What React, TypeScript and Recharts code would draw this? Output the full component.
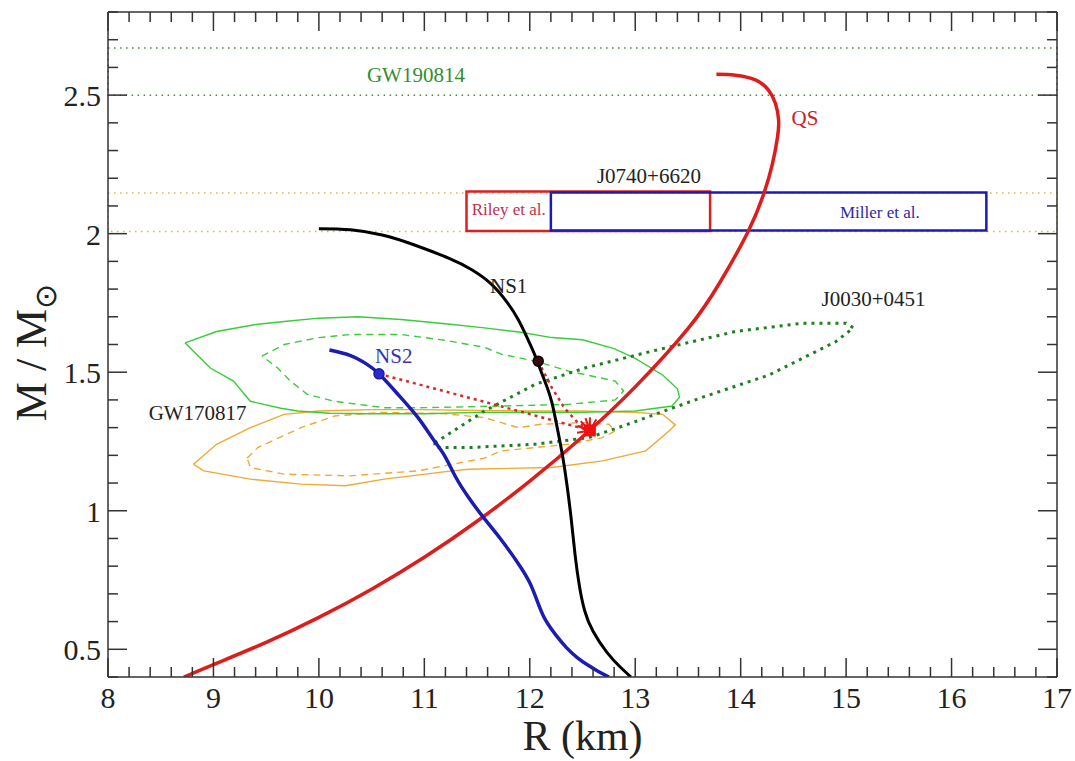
import React from "react";
import {
  ComposedChart,
  Line,
  Scatter,
  XAxis,
  YAxis,
  ReferenceArea,
  ReferenceDot,
} from "recharts";

type Pt = { x: number; y: number };
const pts = (rows: number[][]): Pt[] => rows.map(([x, y]) => ({ x, y }));

// mass–radius curves (R in km, M in solar masses)
const QS = pts([
  [8.72, 0.4], [9.0, 0.445], [9.5, 0.525], [10.0, 0.615], [10.5, 0.717],
  [11.0, 0.832], [11.5, 0.962], [12.0, 1.107], [12.5, 1.267], [13.0, 1.447],
  [13.5, 1.657], [13.8, 1.822], [14.07, 2.007], [14.22, 2.145], [14.3, 2.25],
  [14.35, 2.35], [14.36, 2.41], [14.33, 2.47], [14.26, 2.52], [14.14, 2.555],
  [13.95, 2.572], [13.77, 2.575],
]);

const NS1 = pts([
  [10.0, 2.018], [10.3, 2.014], [10.6, 1.995], [10.9, 1.96], [11.24, 1.91],
  [11.45, 1.87], [11.63, 1.82], [11.78, 1.755], [11.89, 1.69], [11.98, 1.62],
  [12.05, 1.56], [12.1, 1.51], [12.16, 1.45], [12.21, 1.39], [12.26, 1.3],
  [12.31, 1.2], [12.35, 1.1], [12.39, 0.98], [12.43, 0.84], [12.47, 0.73],
  [12.52, 0.64], [12.6, 0.565], [12.73, 0.49], [12.86, 0.435], [12.96, 0.4],
]);

const NS2 = pts([
  [10.1, 1.58], [10.3, 1.56], [10.45, 1.53], [10.57, 1.494], [10.75, 1.42],
  [10.94, 1.336], [11.08, 1.26], [11.19, 1.2], [11.3, 1.12], [11.42, 1.048],
  [11.56, 0.976], [11.72, 0.9], [11.89, 0.81], [12.0, 0.74], [12.08, 0.665],
  [12.15, 0.605], [12.25, 0.55], [12.35, 0.505], [12.45, 0.47],
  [12.55, 0.443], [12.65, 0.42], [12.75, 0.4],
]);

// GW170817 contours
const GW_GREEN_OUTER = pts([
  [8.73, 1.606], [9.03, 1.647], [9.4, 1.672], [9.67, 1.683], [10.0, 1.695],
  [10.37, 1.7], [10.78, 1.69], [11.2, 1.675], [11.57, 1.66], [11.9, 1.645],
  [12.21, 1.625], [12.5, 1.617], [12.8, 1.585], [13.0, 1.55], [13.26, 1.49],
  [13.4, 1.44], [13.42, 1.41], [13.35, 1.378], [13.0, 1.36], [12.5, 1.355],
  [12.0, 1.355], [11.5, 1.355], [11.0, 1.35], [10.5, 1.35], [10.1, 1.352],
  [9.8, 1.36], [9.64, 1.37], [9.35, 1.395], [9.19, 1.468], [8.97, 1.515],
  [8.81, 1.576], [8.73, 1.606],
]);

const GW_GREEN_INNER = pts([
  [9.46, 1.558], [9.67, 1.6], [10.0, 1.625], [10.3, 1.636], [10.78, 1.636],
  [11.2, 1.615], [11.57, 1.59], [11.73, 1.565], [12.05, 1.54], [12.37, 1.504],
  [12.81, 1.468], [12.89, 1.432], [12.81, 1.4], [12.37, 1.384], [11.73, 1.378],
  [11.0, 1.372], [10.62, 1.372], [10.15, 1.395], [9.89, 1.42], [9.73, 1.468],
  [9.61, 1.515], [9.46, 1.558],
]);

const GW_ORANGE_OUTER = pts([
  [8.81, 1.168], [9.03, 1.24], [9.35, 1.3], [9.67, 1.348], [10.0, 1.36],
  [10.5, 1.365], [11.0, 1.365], [11.5, 1.362], [12.0, 1.36], [12.5, 1.36],
  [13.0, 1.355], [13.26, 1.348], [13.38, 1.31], [13.32, 1.288], [13.1, 1.216],
  [12.69, 1.18], [12.21, 1.156], [11.42, 1.15], [11.26, 1.144], [10.62, 1.114],
  [10.25, 1.09], [9.83, 1.096], [9.35, 1.114], [8.91, 1.144], [8.81, 1.168],
]);

const GW_ORANGE_INNER = pts([
  [9.32, 1.19], [9.42, 1.228], [9.83, 1.3], [10.15, 1.342], [10.6, 1.355],
  [11.2, 1.35], [11.57, 1.336], [11.89, 1.3], [12.11, 1.312], [12.5, 1.318],
  [12.75, 1.312], [12.81, 1.288], [12.69, 1.264], [12.37, 1.24], [11.73, 1.216],
  [11.57, 1.19], [10.94, 1.144], [10.3, 1.126], [9.67, 1.132], [9.35, 1.156],
  [9.32, 1.19],
]);

// J0030+0451 (NICER) contour
const J0030 = pts([
  [11.1, 1.245], [11.57, 1.36], [12.05, 1.456], [12.53, 1.516], [13.16, 1.576],
  [13.95, 1.647], [14.59, 1.677], [15.0, 1.677], [15.07, 1.66], [14.9, 1.61],
  [14.27, 1.49], [13.64, 1.41], [12.84, 1.3], [12.56, 1.264], [12.05, 1.24],
  [11.42, 1.228], [11.1, 1.228], [11.1, 1.245],
]);

// marked stars and the conversion paths
const NS1_STAR = pts([[12.08, 1.54]]);
const NS2_STAR = pts([[10.57, 1.494]]);
const QS_STAR = pts([[12.57, 1.29]]);
const PATH_NS2_QS = pts([[10.57, 1.494], [11.6, 1.39], [12.57, 1.29]]);
const PATH_NS1_QS = pts([[12.08, 1.54], [12.2, 1.45], [12.33, 1.37], [12.45, 1.32], [12.57, 1.29]]);

// observational bands
const GW190814_BAND = [2.5, 2.67];
const J0740_BAND = [2.008, 2.147];
const RILEY_BOX = { x: [11.4, 13.71], y: [2.01, 2.152] };
const MILLER_BOX = { x: [12.2, 16.33], y: [2.011, 2.149] };

const LABELS = [
  { text: "GW190814", x: 10.92, y: 2.547, color: "#2f8f2f", size: 21 },
  { text: "QS", x: 14.61, y: 2.392, color: "#cc2222", size: 21 },
  { text: "J0740+6620", x: 13.13, y: 2.183, color: "#222", size: 21 },
  { text: "Riley et al.", x: 11.8, y: 2.067, color: "#c0304a", size: 17 },
  { text: "Miller et al.", x: 15.32, y: 2.056, color: "#2a2aa8", size: 17 },
  { text: "NS1", x: 11.8, y: 1.786, color: "#222", size: 21 },
  { text: "J0030+0451", x: 15.26, y: 1.739, color: "#222", size: 21 },
  { text: "NS2", x: 10.71, y: 1.533, color: "#3535b5", size: 21 },
  { text: "GW170817", x: 8.85, y: 1.327, color: "#222", size: 21 },
];

const X_MAJOR = [8, 9, 10, 11, 12, 13, 14, 15, 16, 17];
const Y_MAJOR = [0.5, 1, 1.5, 2, 2.5];
const X_TICKS = Array.from({ length: 46 }, (_, i) => Math.round((8 + i * 0.2) * 10) / 10);
const Y_TICKS = Array.from({ length: 25 }, (_, i) => Math.round((0.4 + i * 0.1) * 10) / 10);

const SERIF = "'Liberation Serif', 'Times New Roman', serif";
const AXIS = "#333";
const MAJOR_LEN = 19;
const MINOR_LEN = 10;

const isMajor = (v: number, majors: number[]) => majors.some((m) => Math.abs(m - v) < 1e-6);

function BottomTick({ x, y, payload }: any) {
  const major = isMajor(payload.value, X_MAJOR);
  return (
    <g>
      <line x1={x} x2={x} y1={y} y2={y - (major ? MAJOR_LEN : MINOR_LEN)} stroke={AXIS} strokeWidth={1.5} />
      {major && (
        <text x={x} y={y + 31} textAnchor="middle" fontSize={30} fill="#222" fontFamily={SERIF}>
          {payload.value}
        </text>
      )}
    </g>
  );
}

function TopTick({ x, y, payload }: any) {
  const major = isMajor(payload.value, X_MAJOR);
  return <line x1={x} x2={x} y1={y} y2={y + (major ? MAJOR_LEN : MINOR_LEN)} stroke={AXIS} strokeWidth={1.5} />;
}

function LeftTick({ x, y, payload }: any) {
  const major = isMajor(payload.value, Y_MAJOR);
  return (
    <g>
      <line x1={x} x2={x + (major ? MAJOR_LEN : MINOR_LEN)} y1={y} y2={y} stroke={AXIS} strokeWidth={1.5} />
      {major && (
        <text x={x - 7} y={y + 11} textAnchor="end" fontSize={30} fill="#222" fontFamily={SERIF}>
          {payload.value}
        </text>
      )}
    </g>
  );
}

function RightTick({ x, y, payload }: any) {
  const major = isMajor(payload.value, Y_MAJOR);
  return <line x1={x} x2={x - (major ? MAJOR_LEN : MINOR_LEN)} y1={y} y2={y} stroke={AXIS} strokeWidth={1.5} />;
}

function XLabel({ viewBox }: any) {
  const cx = viewBox.x + viewBox.width / 2;
  return (
    <text x={cx} y={viewBox.y + 73} textAnchor="middle" fontSize={42} fill="#222" fontFamily={SERIF}>
      R (km)
    </text>
  );
}

function YLabel({ viewBox }: any) {
  const cx = viewBox.x + 46;
  const cy = viewBox.y + viewBox.height / 2 + 8;
  return (
    <text
      x={cx}
      y={cy}
      textAnchor="middle"
      fontSize={44}
      fill="#222"
      fontFamily={SERIF}
      transform={`rotate(-90, ${cx}, ${cy})`}
    >
      M / M
      <tspan fontSize={30} dy={10}>⊙</tspan>
    </text>
  );
}

const dotShape = (fill: string, stroke: string) => (p: any) => (
  <circle cx={p.cx} cy={p.cy} r={5} fill={fill} stroke={stroke} strokeWidth={1.5} />
);

function StarShape(p: any) {
  const { cx, cy } = p;
  const spikes = [-160, -135, -110, -90, -60, 170, 200];
  return (
    <g>
      {spikes.map((a) => {
        const r = (a * Math.PI) / 180;
        return (
          <line key={a} x1={cx} y1={cy} x2={cx + 13 * Math.cos(r)} y2={cy + 13 * Math.sin(r)} stroke="#e01818" strokeWidth={2} />
        );
      })}
      <rect x={cx - 6} y={cy - 6} width={12} height={12} fill="#ee1111" />
    </g>
  );
}

function curve(
  data: Pt[],
  stroke: string,
  width: number,
  opts: { dash?: string; type?: any; xId?: any; yId?: any } = {}
) {
  return (
    <Line
      data={data}
      dataKey="y"
      type={opts.type ?? "linear"}
      stroke={stroke}
      strokeWidth={width}
      strokeDasharray={opts.dash}
      dot={false}
      activeDot={false}
      xAxisId={opts.xId ?? 0}
      yAxisId={opts.yId ?? 0}
      isAnimationActive={false}
      legendType="none"
    />
  );
}

export default function App() {
  return (
    <div style={{ position: "absolute", left: 0, top: 0, width: 1075, height: 761, background: "#fff", fontFamily: SERIF }}>
      <ComposedChart width={1075} height={761} margin={{ top: 11, right: 17, bottom: 0, left: 0 }}>
        <XAxis
          type="number"
          dataKey="x"
          domain={[8, 17]}
          allowDataOverflow
          ticks={X_TICKS}
          interval={0}
          tickSize={0}
          tickMargin={0}
          tickLine={false}
          tick={<BottomTick />}
          axisLine={{ stroke: AXIS, strokeWidth: 1.5 }}
          height={84}
          label={<XLabel />}
        />
        <XAxis
          xAxisId="top"
          orientation="top"
          type="number"
          dataKey="x"
          domain={[8, 17]}
          allowDataOverflow
          ticks={X_TICKS}
          interval={0}
          tickSize={0}
          tickMargin={0}
          tickLine={false}
          tick={<TopTick />}
          axisLine={{ stroke: AXIS, strokeWidth: 1.5 }}
          height={1}
        />
        <YAxis
          type="number"
          dataKey="y"
          domain={[0.4, 2.8]}
          allowDataOverflow
          ticks={Y_TICKS}
          interval={0}
          tickSize={0}
          tickMargin={0}
          tickLine={false}
          tick={<LeftTick />}
          axisLine={{ stroke: AXIS, strokeWidth: 1.5 }}
          width={108}
          label={<YLabel />}
        />
        <YAxis
          yAxisId="right"
          orientation="right"
          type="number"
          dataKey="y"
          domain={[0.4, 2.8]}
          allowDataOverflow
          ticks={Y_TICKS}
          interval={0}
          tickSize={0}
          tickMargin={0}
          tickLine={false}
          tick={<RightTick />}
          axisLine={{ stroke: AXIS, strokeWidth: 1.5 }}
          width={1}
        />

        <ReferenceArea
          x1={8} x2={17} y1={GW190814_BAND[0]} y2={GW190814_BAND[1]}
          fill="none" stroke="#3a8f3a" strokeWidth={1.5} strokeDasharray="1.5 4.5"
        />
        <ReferenceArea
          x1={8} x2={17} y1={J0740_BAND[0]} y2={J0740_BAND[1]}
          fill="none" stroke="#e6b24a" strokeWidth={1.5} strokeDasharray="1.5 4.5"
        />
        <ReferenceArea
          x1={RILEY_BOX.x[0]} x2={RILEY_BOX.x[1]} y1={RILEY_BOX.y[0]} y2={RILEY_BOX.y[1]}
          fill="none" stroke="#dd1f1f" strokeWidth={2.5}
        />
        <ReferenceArea
          x1={MILLER_BOX.x[0]} x2={MILLER_BOX.x[1]} y1={MILLER_BOX.y[0]} y2={MILLER_BOX.y[1]}
          fill="none" stroke="#1c1cb4" strokeWidth={2.5}
        />

        {curve(GW_ORANGE_OUTER, "#eeaa33", 1.4)}
        {curve(GW_ORANGE_INNER, "#eeaa33", 1.4, { dash: "7 5" })}
        {curve(GW_GREEN_OUTER, "#3acc3a", 1.4)}
        {curve(GW_GREEN_INNER, "#3acc3a", 1.4, { dash: "7 5" })}
        {curve(J0030, "#1f7f1f", 3, { dash: "3 5", xId: "top", yId: "right" })}
        {curve(PATH_NS2_QS, "#d42a2a", 2.5, { dash: "3 4" })}
        {curve(PATH_NS1_QS, "#d42a2a", 2.5, { dash: "3 4" })}
        {curve(QS, "#dd1c1c", 3.5, { type: "natural" })}
        {curve(NS1, "#000", 3, { type: "natural" })}
        {curve(NS2, "#1c1cb0", 3.5, { type: "natural" })}

        <Scatter data={NS1_STAR} shape={dotShape("#3a0a0a", "#000")} isAnimationActive={false} legendType="none" />
        <Scatter data={NS2_STAR} shape={dotShape("#2a2ad0", "#1c1c9a")} isAnimationActive={false} legendType="none" />
        <Scatter data={QS_STAR} shape={StarShape} isAnimationActive={false} legendType="none" />

        {LABELS.map((l) => (
          <ReferenceDot
            key={l.text}
            x={l.x}
            y={l.y}
            r={0}
            shape={(p: any) => (
              <text x={p.cx} y={p.cy} textAnchor="middle" fontSize={l.size} fill={l.color} fontFamily={SERIF}>
                {l.text}
              </text>
            )}
          />
        ))}
      </ComposedChart>
    </div>
  );
}
